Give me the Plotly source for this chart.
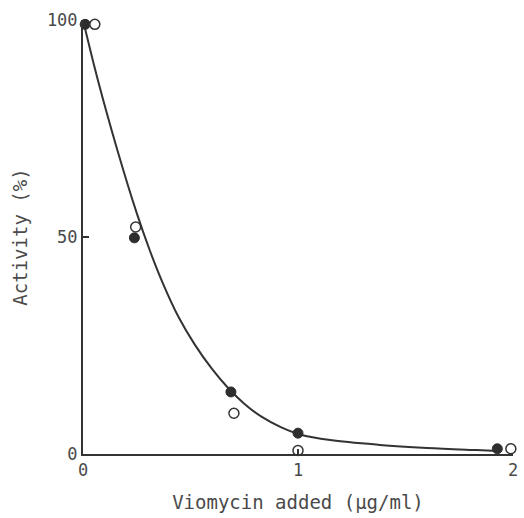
import plotly.graph_objects as go

# Data
filled_x = [0.01, 0.239, 0.688, 1.00, 1.927]
filled_y = [99.0, 49.8, 14.3, 4.8, 1.2]
open_x = [0.055, 0.245, 0.702, 1.00, 1.99]
open_y = [99.0, 52.3, 9.4, 0.8, 1.2]
curve_x = [0.0, 0.07, 0.16, 0.25, 0.31, 0.37, 0.445, 0.52, 0.60, 0.675,
           0.75, 0.83, 0.92, 1.01, 1.15, 1.38, 1.60, 1.83, 1.93]
curve_y = [100.0, 86.0, 70.0, 55.5, 47.0, 39.5, 31.5, 25.2, 19.6, 15.2,
           11.6, 8.6, 6.2, 4.5, 3.2, 2.1, 1.4, 0.9, 0.7]

xticks = [0, 1, 2]
yticks = [0, 50, 100]

ink = "#333333"
text_col = "#4a4a4a"
font_family = "DejaVu Sans Mono"

fig = go.Figure()
fig.add_trace(go.Scatter(x=curve_x, y=curve_y, mode="lines",
                         line=dict(color=ink, width=2, shape="spline", smoothing=1.0),
                         hoverinfo="skip", showlegend=False, cliponaxis=False))
fig.add_trace(go.Scatter(x=filled_x, y=filled_y, mode="markers",
                         marker=dict(symbol="circle", size=10, color="#2e2e2e",
                                     line=dict(color="#2e2e2e", width=1)),
                         showlegend=False, cliponaxis=False))
fig.add_trace(go.Scatter(x=open_x, y=open_y, mode="markers",
                         marker=dict(symbol="circle", size=10, color="white",
                                     line=dict(color=ink, width=1.5)),
                         showlegend=False, cliponaxis=False))

fig.update_layout(
    width=524, height=518,
    margin=dict(l=83, r=6, t=20, b=64),
    paper_bgcolor="white", plot_bgcolor="white",
    font=dict(family=font_family, size=17, color=text_col),
    xaxis=dict(range=[0, 2], tickvals=xticks, ticktext=[str(v) for v in xticks],
               showgrid=False, zeroline=False, showline=True, linecolor=ink, linewidth=2,
               ticks="inside", ticklen=5, tickcolor=ink, tickwidth=1.5,
               title=dict(text="Viomycin added (μg/ml)", standoff=16,
                          font=dict(size=19, family=font_family, color=text_col)),
               tickfont=dict(size=17)),
    yaxis=dict(range=[0, 100], tickvals=yticks, ticktext=[str(v) for v in yticks],
               showgrid=False, zeroline=False, showline=True, linecolor=ink, linewidth=2,
               ticks="inside", ticklen=6, tickcolor=ink, tickwidth=1.5,
               title=dict(text="Activity (%)", standoff=14,
                          font=dict(size=19, family=font_family, color=text_col)),
               tickfont=dict(size=17)),
)

fig.write_html("out.html")
